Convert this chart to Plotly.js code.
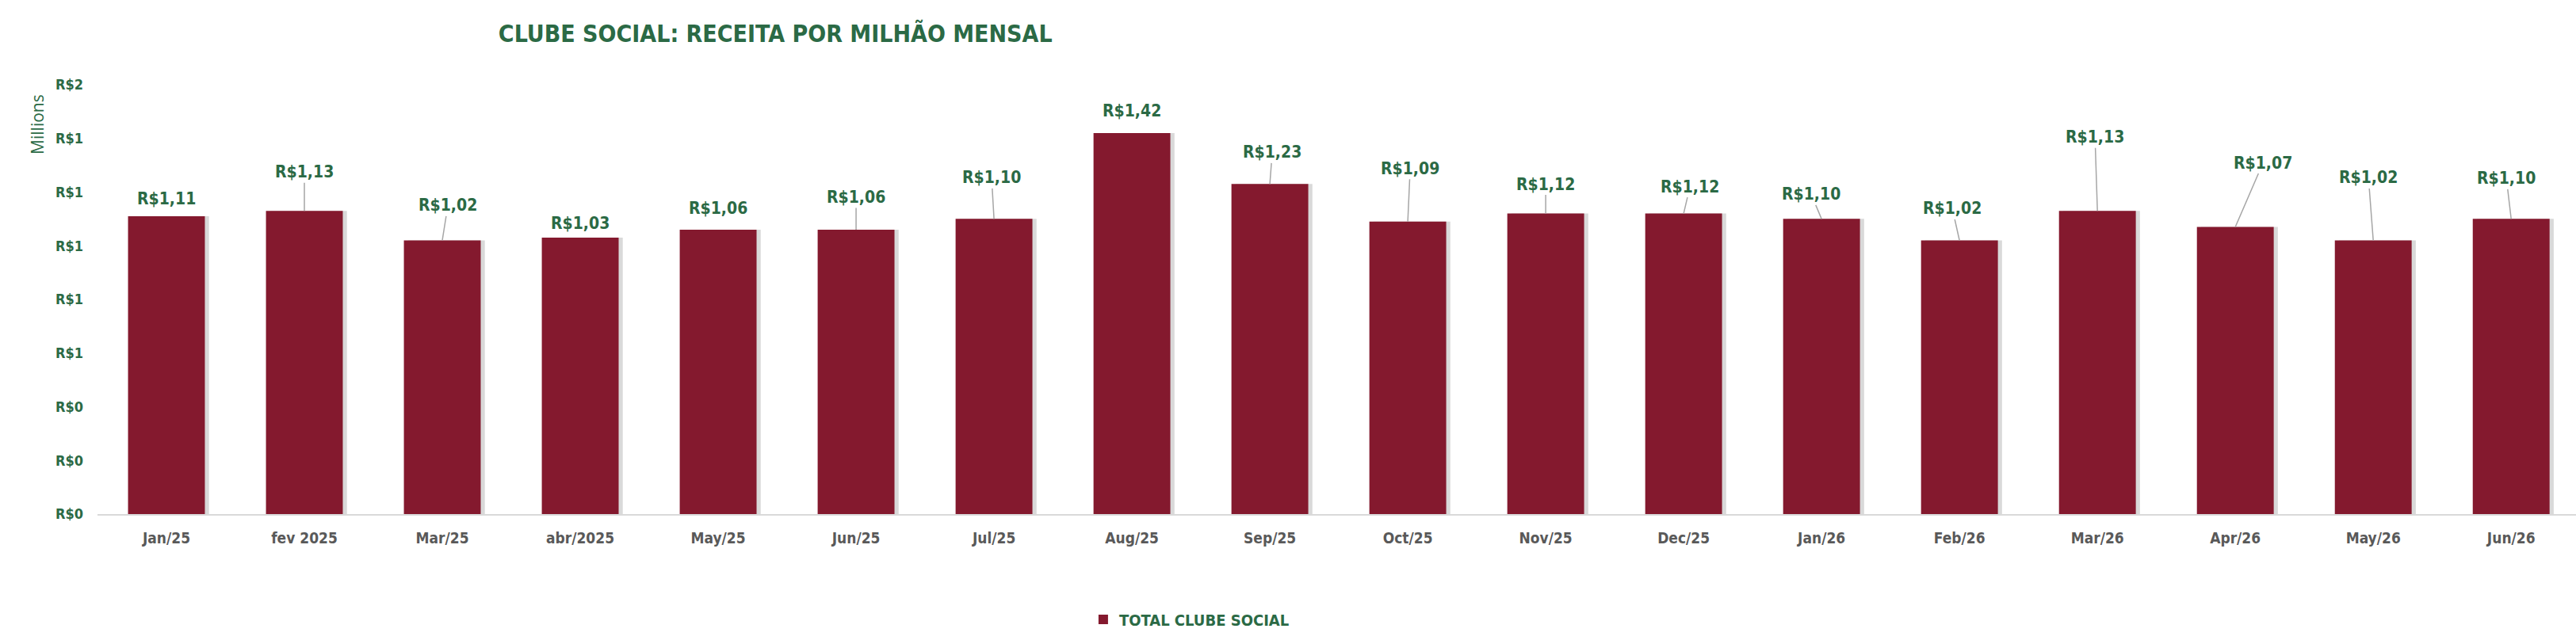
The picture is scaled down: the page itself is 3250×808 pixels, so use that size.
<!DOCTYPE html>
<html>
<head>
<meta charset="utf-8">
<script src="https://cdn.plot.ly/plotly-3.0.1.min.js"></script>
<style>
  html, body { margin: 0; padding: 0; background: #fff; }
  #chart { width: 3250px; height: 808px; }
</style>
</head>
<body>
<div id="chart"></div>
<script>
// Clube Social — receita mensal (em milhões de R$)

const months = ['Jan/25', 'fev 2025', 'Mar/25', 'abr/2025', 'May/25', 'Jun/25', 'Jul/25', 'Aug/25', 'Sep/25',
  'Oct/25', 'Nov/25', 'Dec/25', 'Jan/26', 'Feb/26', 'Mar/26', 'Apr/26', 'May/26', 'Jun/26'];
const receita = [1.11, 1.13, 1.02, 1.03, 1.06, 1.06, 1.10, 1.42, 1.23,
  1.09, 1.12, 1.12, 1.10, 1.02, 1.13, 1.07, 1.02, 1.10];
const seriesName = 'TOTAL CLUBE SOCIAL';

// label placement (pixels from bar top), moved by hand like the original sheet
const labelDx = [0, 0, 7, 0, 0, 0, -3, 0, 3, 3, 0, 8, -13, -9, -3, 35, -6, -6];
const labelDy = [-22, -49, -44, -18, -27, -41, -52, -28, -40, -67, -37, -34, -31, -40, -93, -81, -79, -51];
const leader  = [false, true, true, false, false, true, true, false, true, true, true, true, true, true, true, true, true, true];

const GREEN = '#2B6A45';
const WINE = '#84192E';
const FONT = '"Liberation Sans Narrow", "DejaVu Sans Condensed", Roboto, sans-serif';

const fmtBRL = v => 'R$' + v.toFixed(2).replace('.', ',');

const shadowTrace = {
  type: 'bar', x: months, y: receita,
  width: 0.557, offset: -0.2785 + 0.03,
  marker: { color: 'rgba(80,80,80,0.22)' },
  hoverinfo: 'skip', showlegend: false
};

const barTrace = {
  type: 'bar', x: months, y: receita, name: seriesName,
  width: 0.557, offset: -0.2785,
  marker: { color: WINE },
  hovertemplate: '%{x}: R$%{y:.2f}M<extra></extra>'
};

const annotations = receita.map((v, i) => ({
  x: months[i], y: v, xref: 'x', yref: 'y',
  text: fmtBRL(v),
  showarrow: true, arrowhead: 0, standoff: 0,
  arrowwidth: 1.5,
  arrowcolor: leader[i] ? '#A6A6A6' : 'rgba(0,0,0,0)',
  ax: labelDx[i], ay: labelDy[i],
  font: { family: FONT, size: 21, color: GREEN, weight: 'bold' }
}));

annotations.push({
  xref: 'paper', yref: 'paper', x: -0.0243, y: 0.908,
  text: 'Millions', showarrow: false, textangle: -90,
  xanchor: 'center', yanchor: 'middle',
  font: { family: 'Open Sans, sans-serif', size: 21, color: GREEN }
});

const layout = {
  width: 3250, height: 808,
  paper_bgcolor: '#fff', plot_bgcolor: '#fff',
  margin: { t: 107, r: 0, b: 159, l: 123 },
  barmode: 'overlay',
  title: {
    text: 'CLUBE SOCIAL: RECEITA POR MILHÃO MENSAL',
    xref: 'container', yref: 'container', x: 0.301, y: 0.947,
    xanchor: 'center', yanchor: 'middle',
    font: { family: FONT, size: 30, color: GREEN, weight: 'bold' }
  },
  xaxis: {
    type: 'category', range: [-0.5, 17.47],
    showgrid: false, zeroline: false,
    showline: true, linecolor: '#D9D9D9', linewidth: 2,
    ticks: '', ticklabelstandoff: 12,
    tickfont: { family: FONT, size: 19, color: '#595959', weight: 'bold' }
  },
  yaxis: {
    range: [0, 1.6], dtick: 0.2, tick0: 0,
    tickprefix: 'R$', tickformat: '.0f',
    showgrid: false, zeroline: false, showline: false,
    ticks: '', ticklabelstandoff: 17,
    tickfont: { family: FONT, size: 18, color: GREEN, weight: 'bold' }
  },
  showlegend: true,
  legend: {
    orientation: 'h', x: 0.3994, y: -0.2454, xanchor: 'left', yanchor: 'middle',
    font: { family: FONT, size: 20, color: GREEN, weight: 'bold' },
    bgcolor: 'rgba(0,0,0,0)'
  },
  annotations: annotations
};

Plotly.newPlot('chart', [shadowTrace, barTrace], layout, { displayModeBar: false, staticPlot: true });
</script>
</body>
</html>
